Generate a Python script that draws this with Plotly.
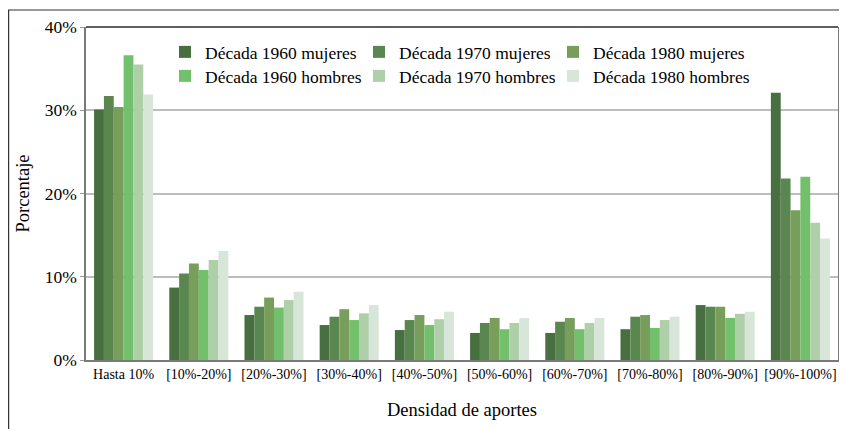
import plotly.graph_objects as go

categories = ["Hasta 10%", "[10%-20%]", "[20%-30%]", "[30%-40%]", "[40%-50%]",
              "[50%-60%]", "[60%-70%]", "[70%-80%]", "[80%-90%]", "[90%-100%]"]

m1960 = [30.1, 8.7, 5.4, 4.2, 3.6, 3.25, 3.25, 3.7, 6.6, 32.1]
m1970 = [31.7, 10.4, 6.4, 5.2, 4.8, 4.45, 4.6, 5.2, 6.4, 21.8]
m1980 = [30.4, 11.6, 7.5, 6.1, 5.4, 5.05, 5.05, 5.4, 6.4, 18.0]
h1960 = [36.6, 10.8, 6.3, 4.8, 4.2, 3.7, 3.7, 3.85, 5.05, 22.0]
h1970 = [35.5, 12.0, 7.2, 5.6, 4.9, 4.45, 4.45, 4.8, 5.55, 16.5]
h1980 = [31.9, 13.1, 8.2, 6.6, 5.8, 5.05, 5.05, 5.2, 5.8, 14.6]

series = [
    ("Década 1960 mujeres", m1960, "#476f3f"),
    ("Década 1970 mujeres", m1970, "#5a864f"),
    ("Década 1980 mujeres", m1980, "#779e5a"),
    ("Década 1960 hombres", h1960, "#73c06c"),
    ("Década 1970 hombres", h1970, "#afcfa8"),
    ("Década 1980 hombres", h1980, "#d8e6da"),
]

FONT = "Liberation Serif"
# the page body adds an 8px offset, so the figure is 8px smaller than the window
W, H = 839, 421
L, R, T, B = 78, 9, 19, 69
pw, ph = W - L - R, H - T - B

def px2paper_x(px):
    return (px - L) / pw

def px2paper_y(py):
    return (H - B - py) / ph

# legend slots (figure px): left edge of legend box, vertical centre of row
leg_cols = [157, 351, 545]
leg_rows = [44, 68]

fig = go.Figure()
legends = {}
for i, (name, vals, col) in enumerate(series):
    key = "legend" if i == 0 else f"legend{i+1}"
    fig.add_trace(go.Bar(x=categories, y=vals, name=name, marker_color=col,
                         marker_line_width=0, legend=key, showlegend=True))
    cx = leg_cols[i % 3]
    cy = leg_rows[i // 3]
    legends[key] = dict(orientation="h", x=px2paper_x(cx), y=px2paper_y(cy),
                        xanchor="left", yanchor="middle",
                        font=dict(family=FONT, size=17.5, color="black"),
                        bgcolor="rgba(0,0,0,0)", borderwidth=0)

fig.update_layout(
    width=W, height=H, showlegend=True,
    margin=dict(l=L, r=R, t=T, b=B, autoexpand=False),
    paper_bgcolor="white", plot_bgcolor="white",
    font=dict(family=FONT, color="black", size=15),
    barmode="group", bargap=0.215, bargroupgap=0,
    xaxis=dict(showline=True, linecolor="#7a7a7a", linewidth=2, mirror=False,
               ticks="", tickfont=dict(family=FONT, size=14), automargin=False,
               title=dict(text="Densidad de aportes", font=dict(family=FONT, size=18.5),
                          standoff=22)),
    yaxis=dict(range=[0, 40], dtick=10, ticksuffix="%", showgrid=True,
               gridcolor="#bdbdbd", gridwidth=1.5, zeroline=False, automargin=False,
               showline=True, linecolor="#7a7a7a", linewidth=1.5, mirror=True,
               ticks="outside", ticklen=4, tickcolor="#999999",
               tickfont=dict(family=FONT, size=17.5),
               title=dict(text="Porcentaje", font=dict(family=FONT, size=18.5),
                          standoff=10)),
    shapes=[
        dict(type="rect", xref="paper", yref="paper",
             x0=px2paper_x(0.6), x1=px2paper_x(870),
             y0=px2paper_y(450), y1=px2paper_y(2),
             line=dict(color="#333333", width=1.2), layer="below"),
        dict(type="line", xref="paper", yref="paper", x0=0, x1=1, y0=1, y1=1,
             line=dict(color="#2a2a2a", width=1.3), layer="above"),
    ],
    **legends,
)

fig.write_html("out.html")
